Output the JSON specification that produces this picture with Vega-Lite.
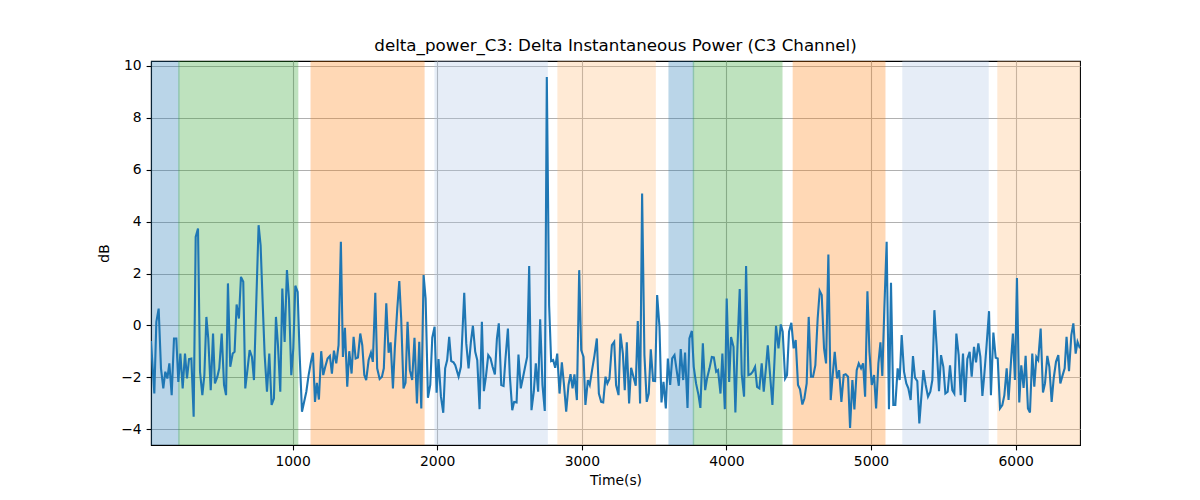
{
  "$schema": "https://vega.github.io/schema/vega-lite/v6.json",
  "width": 929,
  "height": 384,
  "autosize": "none",
  "padding": {"left": 151, "top": 61, "right": 120, "bottom": 55},
  "background": "white",
  "title": {
    "text": "delta_power_C3: Delta Instantaneous Power (C3 Channel)",
    "font": "DejaVu Sans",
    "fontSize": 16.7,
    "fontWeight": "normal",
    "color": "black",
    "anchor": "middle",
    "offset": 4
  },
  "config": {
    "view": {"stroke": "black", "strokeWidth": 1.1},
    "axis": {
      "labelFont": "DejaVu Sans",
      "labelFontSize": 13.9,
      "labelColor": "black",
      "titleFont": "DejaVu Sans",
      "titleFontSize": 13.9,
      "titleFontWeight": "normal",
      "titleColor": "black",
      "domainColor": "black",
      "domainWidth": 1.1,
      "tickColor": "black",
      "tickWidth": 1.1,
      "tickSize": 4.9,
      "labelPadding": 4.9,
      "gridColor": "#b0b0b0",
      "gridWidth": 1.1
    }
  },
  "datasets": {
    "bands": [
      {"start": 21, "end": 214, "stage": "S1"},
      {"start": 214, "end": 1035, "stage": "S2"},
      {"start": 1129, "end": 1908, "stage": "S3"},
      {"start": 1986, "end": 2760, "stage": "S4"},
      {"start": 2836, "end": 3507, "stage": "S5"},
      {"start": 3604, "end": 3772, "stage": "S1"},
      {"start": 3772, "end": 4383, "stage": "S2"},
      {"start": 4463, "end": 5095, "stage": "S3"},
      {"start": 5221, "end": 5809, "stage": "S4"},
      {"start": 5878, "end": 6445, "stage": "S5"}
    ],
    "signal": [
      {"t":21,"db":-0.60},{"t":44,"db":-2.62},{"t":58,"db":0.14},{"t":74,"db":0.65},{"t":90,"db":-1.65},{"t":106,"db":-2.42},{"t":120,"db":-1.78},{"t":134,"db":-2.04},{"t":148,"db":-1.46},{"t":164,"db":-2.68},{"t":180,"db":-0.50},{"t":196,"db":-0.50},{"t":210,"db":-2.17},{"t":224,"db":-1.08},{"t":240,"db":-2.42},{"t":256,"db":-1.08},{"t":270,"db":-2.04},{"t":284,"db":-1.29},{"t":300,"db":-1.27},{"t":316,"db":-3.51},{"t":330,"db":3.41},{"t":346,"db":3.73},{"t":360,"db":-1.78},{"t":376,"db":-2.68},{"t":390,"db":-1.91},{"t":404,"db":0.33},{"t":417,"db":-0.50},{"t":434,"db":-2.49},{"t":450,"db":-0.31},{"t":463,"db":-2.23},{"t":480,"db":-1.97},{"t":493,"db":-1.65},{"t":510,"db":-0.31},{"t":526,"db":-2.29},{"t":540,"db":-2.68},{"t":553,"db":1.62},{"t":569,"db":-1.59},{"t":586,"db":-1.08},{"t":599,"db":-1.01},{"t":613,"db":0.81},{"t":629,"db":0.27},{"t":643,"db":1.87},{"t":659,"db":1.68},{"t":673,"db":-2.42},{"t":689,"db":-1.65},{"t":703,"db":-0.95},{"t":719,"db":-1.21},{"t":733,"db":-2.10},{"t":749,"db":0.90},{"t":765,"db":3.86},{"t":779,"db":3.09},{"t":793,"db":0.91},{"t":807,"db":-1.14},{"t":823,"db":-2.55},{"t":839,"db":-1.08},{"t":855,"db":-3.06},{"t":871,"db":-2.81},{"t":885,"db":0.33},{"t":899,"db":-0.76},{"t":915,"db":-2.55},{"t":929,"db":1.42},{"t":945,"db":-0.63},{"t":961,"db":2.13},{"t":975,"db":1.04},{"t":991,"db":-1.91},{"t":1005,"db":-0.88},{"t":1019,"db":1.53},{"t":1035,"db":1.29},{"t":1049,"db":-1.14},{"t":1065,"db":-3.32},
      {"t":1095,"db":-2.55},{"t":1111,"db":-1.91},{"t":1127,"db":-1.40},{"t":1141,"db":-1.05},{"t":1155,"db":-2.94},{"t":1168,"db":-2.21},{"t":1182,"db":-2.85},{"t":1198,"db":-0.99},{"t":1212,"db":-1.91},{"t":1226,"db":-1.59},{"t":1242,"db":-1.27},{"t":1258,"db":-1.17},{"t":1272,"db":-1.85},{"t":1286,"db":-0.97},{"t":1302,"db":-1.46},{"t":1318,"db":-0.76},{"t":1334,"db":3.22},{"t":1348,"db":-1.21},{"t":1362,"db":-0.09},{"t":1378,"db":-2.36},{"t":1392,"db":-0.99},{"t":1408,"db":-1.85},{"t":1422,"db":-0.44},{"t":1436,"db":-1.27},{"t":1452,"db":-1.23},{"t":1468,"db":-0.31},{"t":1482,"db":-0.76},{"t":1496,"db":-1.91},{"t":1509,"db":-2.10},{"t":1526,"db":-1.33},{"t":1542,"db":-1.05},{"t":1555,"db":-1.40},{"t":1572,"db":1.26},{"t":1585,"db":-1.65},{"t":1602,"db":-2.06},{"t":1618,"db":-1.97},{"t":1631,"db":-1.65},{"t":1648,"db":0.85},{"t":1664,"db":-1.05},{"t":1678,"db":-0.65},{"t":1694,"db":-2.42},{"t":1707,"db":-0.88},{"t":1724,"db":0.65},{"t":1738,"db":1.71},{"t":1751,"db":0.27},{"t":1767,"db":-2.42},{"t":1781,"db":-2.21},{"t":1795,"db":0.14},{"t":1811,"db":-1.72},{"t":1827,"db":-2.10},{"t":1843,"db":-0.47},{"t":1860,"db":-3.00},{"t":1876,"db":-0.63},{"t":1890,"db":-3.19},{"t":1906,"db":1.94},{"t":1920,"db":1.04},{"t":1936,"db":-2.78},{"t":1952,"db":-2.29},{"t":1966,"db":-0.47},{"t":1982,"db":-0.05},{"t":1996,"db":-2.59},{"t":2009,"db":-1.29},{"t":2026,"db":-2.74},{"t":2042,"db":-3.36},{"t":2055,"db":-1.65},{"t":2069,"db":-1.33},{"t":2083,"db":-0.44},{"t":2097,"db":-1.37},{"t":2113,"db":-1.42},
      {"t":2125,"db":-1.53},{"t":2148,"db":-1.97},{"t":2164,"db":-1.59},{"t":2187,"db":1.26},{"t":2201,"db":-0.69},{"t":2217,"db":-1.65},{"t":2233,"db":-0.63},{"t":2247,"db":-0.01},{"t":2263,"db":-1.01},{"t":2277,"db":-1.33},{"t":2293,"db":-3.22},{"t":2309,"db":0.14},{"t":2323,"db":-2.53},{"t":2337,"db":-1.97},{"t":2353,"db":-1.14},{"t":2369,"db":-1.27},{"t":2383,"db":-1.59},{"t":2399,"db":-1.88},{"t":2413,"db":-0.50},{"t":2426,"db":0.08},{"t":2443,"db":-2.29},{"t":2459,"db":-2.33},{"t":2472,"db":-1.29},{"t":2489,"db":-0.12},{"t":2502,"db":-1.91},{"t":2519,"db":-3.26},{"t":2532,"db":-2.94},{"t":2549,"db":-2.96},{"t":2562,"db":-1.12},{"t":2578,"db":-2.42},{"t":2592,"db":-2.04},{"t":2608,"db":-1.59},{"t":2622,"db":-1.21},{"t":2636,"db":2.29},{"t":2652,"db":-3.26},{"t":2668,"db":-2.55},{"t":2682,"db":-1.46},{"t":2698,"db":-2.55},{"t":2712,"db":0.24},{"t":2728,"db":-2.29},{"t":2744,"db":-3.29},{"t":2758,"db":9.56},{"t":2774,"db":0.78},{"t":2788,"db":-1.37},{"t":2802,"db":-1.33},{"t":2816,"db":-1.63},{"t":2830,"db":-1.08},{"t":2846,"db":-2.62},{"t":2862,"db":-1.42},{"t":2876,"db":-2.23},{"t":2892,"db":-3.32},{"t":2908,"db":-2.29},{"t":2922,"db":-1.87},{"t":2936,"db":-2.42},{"t":2949,"db":-1.88},{"t":2966,"db":-2.87},{"t":2982,"db":2.13},{"t":2996,"db":-0.95},{"t":3012,"db":-1.21},{"t":3025,"db":-3.06},{"t":3042,"db":-2.10},{"t":3055,"db":-2.29},{"t":3071,"db":-1.72},{"t":3088,"db":-1.14},{"t":3104,"db":-0.50},{"t":3118,"db":-2.62},{"t":3134,"db":-2.94},{"t":3148,"db":-2.96},{"t":3164,"db":-1.97},{"t":3177,"db":-2.23},{"t":3191,"db":-2.06},
      {"t":3208,"db":-0.76},{"t":3224,"db":-0.63},{"t":3237,"db":-2.29},{"t":3254,"db":-2.68},{"t":3267,"db":-0.31},{"t":3284,"db":-1.08},{"t":3297,"db":-2.49},{"t":3311,"db":-0.65},{"t":3327,"db":-3.00},{"t":3341,"db":-1.63},{"t":3357,"db":-1.97},{"t":3373,"db":-2.32},{"t":3387,"db":0.17},{"t":3403,"db":-3.00},{"t":3417,"db":5.08},{"t":3433,"db":-1.14},{"t":3449,"db":-2.94},{"t":3463,"db":-2.62},{"t":3477,"db":-0.92},{"t":3493,"db":-2.13},{"t":3507,"db":-2.14},{"t":3521,"db":1.17},{"t":3537,"db":-0.05},{"t":3551,"db":-2.96},{"t":3565,"db":-2.17},{"t":3581,"db":-3.19},{"t":3595,"db":-1.27},{"t":3611,"db":-2.29},{"t":3625,"db":-1.27},{"t":3641,"db":-1.14},{"t":3654,"db":-1.65},{"t":3671,"db":-2.32},{"t":3684,"db":-0.91},{"t":3701,"db":-2.10},{"t":3714,"db":-1.04},{"t":3731,"db":-3.17},{"t":3744,"db":-0.50},{"t":3761,"db":-0.21},{"t":3774,"db":-1.59},{"t":3790,"db":-2.23},{"t":3807,"db":-2.68},{"t":3820,"db":-3.17},{"t":3837,"db":-0.69},{"t":3853,"db":-2.49},{"t":3866,"db":-2.04},{"t":3883,"db":-1.65},{"t":3899,"db":-1.21},{"t":3913,"db":-1.23},{"t":3929,"db":-1.78},{"t":3942,"db":-1.72},{"t":3959,"db":-2.62},{"t":3972,"db":-1.08},{"t":3989,"db":-3.22},{"t":4002,"db":1.04},{"t":4019,"db":-2.17},{"t":4032,"db":-0.44},{"t":4049,"db":-0.82},{"t":4062,"db":-3.35},{"t":4076,"db":-0.88},{"t":4092,"db":1.40},{"t":4106,"db":-1.88},{"t":4122,"db":-2.74},{"t":4136,"db":2.29},{"t":4152,"db":-1.91},{"t":4168,"db":-1.87},{"t":4182,"db":-1.78},{"t":4198,"db":-1.59},{"t":4212,"db":-2.36},{"t":4228,"db":-2.42},{"t":4244,"db":-1.46},{"t":4258,"db":-2.55},{"t":4274,"db":-1.59},
      {"t":4286,"db":-0.76},{"t":4302,"db":-1.91},{"t":4318,"db":-3.06},{"t":4332,"db":-1.40},{"t":4343,"db":-0.01},{"t":4360,"db":-0.88},{"t":4376,"db":0.04},{"t":4389,"db":-0.24},{"t":4406,"db":-2.04},{"t":4419,"db":-1.91},{"t":4433,"db":-0.24},{"t":4449,"db":0.10},{"t":4465,"db":-0.88},{"t":4479,"db":-0.56},{"t":4495,"db":-2.29},{"t":4509,"db":-2.46},{"t":4525,"db":-3.04},{"t":4539,"db":-2.81},{"t":4555,"db":-2.23},{"t":4569,"db":0.33},{"t":4585,"db":-1.97},{"t":4599,"db":-1.97},{"t":4615,"db":-1.53},{"t":4631,"db":0.27},{"t":4645,"db":1.33},{"t":4659,"db":1.17},{"t":4675,"db":-0.88},{"t":4689,"db":-1.46},{"t":4705,"db":2.73},{"t":4721,"db":-2.87},{"t":4735,"db":-1.91},{"t":4749,"db":-1.01},{"t":4765,"db":-2.04},{"t":4779,"db":-1.72},{"t":4795,"db":-2.94},{"t":4811,"db":-1.91},{"t":4825,"db":-1.88},{"t":4841,"db":-1.97},{"t":4855,"db":-3.94},{"t":4871,"db":-2.10},{"t":4885,"db":-3.23},{"t":4901,"db":-1.72},{"t":4915,"db":-1.46},{"t":4931,"db":-1.65},{"t":4945,"db":-1.46},{"t":4959,"db":-2.74},{"t":4975,"db":1.32},{"t":4989,"db":-1.01},{"t":5005,"db":-2.29},{"t":5021,"db":-1.91},{"t":5035,"db":-3.19},{"t":5051,"db":-1.46},{"t":5065,"db":-0.65},{"t":5078,"db":-1.94},{"t":5092,"db":0.65},{"t":5108,"db":3.22},{"t":5124,"db":-3.22},{"t":5138,"db":1.64},{"t":5154,"db":-3.06},{"t":5168,"db":-3.06},{"t":5184,"db":-1.65},{"t":5198,"db":-2.10},{"t":5212,"db":-0.37},{"t":5228,"db":-1.78},{"t":5244,"db":-2.23},{"t":5258,"db":-2.42},{"t":5274,"db":-2.87},{"t":5290,"db":-1.18},{"t":5304,"db":-2.01},{"t":5320,"db":-2.14},{"t":5334,"db":-3.77},
      {"t":5362,"db":-1.72},{"t":5378,"db":-2.29},{"t":5394,"db":-2.74},{"t":5410,"db":-2.55},{"t":5424,"db":-2.10},{"t":5438,"db":0.59},{"t":5454,"db":-0.82},{"t":5470,"db":-2.53},{"t":5484,"db":-1.14},{"t":5500,"db":-1.59},{"t":5514,"db":-2.62},{"t":5530,"db":-2.55},{"t":5546,"db":-1.53},{"t":5562,"db":-2.49},{"t":5576,"db":-2.62},{"t":5590,"db":-0.31},{"t":5606,"db":-1.14},{"t":5620,"db":-2.68},{"t":5636,"db":-1.08},{"t":5650,"db":-2.94},{"t":5666,"db":-1.29},{"t":5682,"db":-1.01},{"t":5696,"db":-1.97},{"t":5712,"db":-0.82},{"t":5726,"db":-1.42},{"t":5742,"db":-0.69},{"t":5756,"db":-1.21},{"t":5770,"db":-2.71},{"t":5783,"db":-1.91},{"t":5799,"db":-0.76},{"t":5816,"db":0.55},{"t":5829,"db":-2.68},{"t":5846,"db":-0.27},{"t":5862,"db":-1.24},{"t":5876,"db":-1.27},{"t":5892,"db":-3.19},{"t":5908,"db":-3.06},{"t":5922,"db":-2.68},{"t":5938,"db":-1.65},{"t":5951,"db":-2.87},{"t":5968,"db":-1.37},{"t":5981,"db":-0.31},{"t":5995,"db":-2.10},{"t":6009,"db":1.83},{"t":6025,"db":-2.96},{"t":6039,"db":-1.53},{"t":6055,"db":-2.40},{"t":6069,"db":-1.17},{"t":6085,"db":-3.19},{"t":6099,"db":-3.35},{"t":6115,"db":-1.08},{"t":6129,"db":-2.36},{"t":6143,"db":-1.21},{"t":6156,"db":-1.33},{"t":6173,"db":-0.12},{"t":6189,"db":-2.58},{"t":6203,"db":-2.23},{"t":6219,"db":-1.17},{"t":6233,"db":-1.59},{"t":6249,"db":-2.94},{"t":6263,"db":-2.04},{"t":6279,"db":-1.40},{"t":6295,"db":-1.14},{"t":6309,"db":-2.23},{"t":6325,"db":-1.91},{"t":6339,"db":-1.65},{"t":6352,"db":-0.44},{"t":6369,"db":-1.76},{"t":6385,"db":-0.37},{"t":6399,"db":0.08},{"t":6415,"db":-1.08},{"t":6428,"db":-0.63},{"t":6445,"db":-0.88}
    ]
  },
  "encoding": {
    "x": {
      "type": "quantitative",
      "scale": {"domain": [21, 6445], "nice": false, "zero": false},
      "axis": {"title": "Time(s)", "values": [1000, 2000, 3000, 4000, 5000, 6000], "format": "d", "grid": true, "titlePadding": 5}
    },
    "y": {
      "type": "quantitative",
      "scale": {"domain": [-4.6, 10.18], "nice": false, "zero": false},
      "axis": {"title": "dB", "values": [-4, -2, 0, 2, 4, 6, 8, 10], "format": "d", "grid": true, "titlePadding": 9}
    }
  },
  "layer": [
    {
      "data": {"name": "bands"},
      "mark": {"type": "rect", "opacity": 0.3, "strokeWidth": 1.4, "clip": true},
      "encoding": {
        "x": {"field": "start", "type": "quantitative"},
        "x2": {"field": "end"},
        "color": {
          "field": "stage",
          "type": "nominal",
          "scale": {"domain": ["S1", "S2", "S3", "S4", "S5"], "range": ["#1f77b4", "#2ca02c", "#ff7f0e", "#aec7e8", "#ffbb78"]},
          "legend": null
        },
        "stroke": {
          "field": "stage",
          "type": "nominal",
          "scale": {"domain": ["S1", "S2", "S3", "S4", "S5"], "range": ["#1f77b4", "#2ca02c", "#ff7f0e", "#aec7e8", "#ffbb78"]},
          "legend": null
        }
      }
    },
    {
      "data": {"name": "signal"},
      "mark": {"type": "line", "color": "#1f77b4", "strokeWidth": 2.1, "clip": true},
      "encoding": {
        "x": {"field": "t", "type": "quantitative"},
        "y": {"field": "db", "type": "quantitative"}
      }
    }
  ]
}
